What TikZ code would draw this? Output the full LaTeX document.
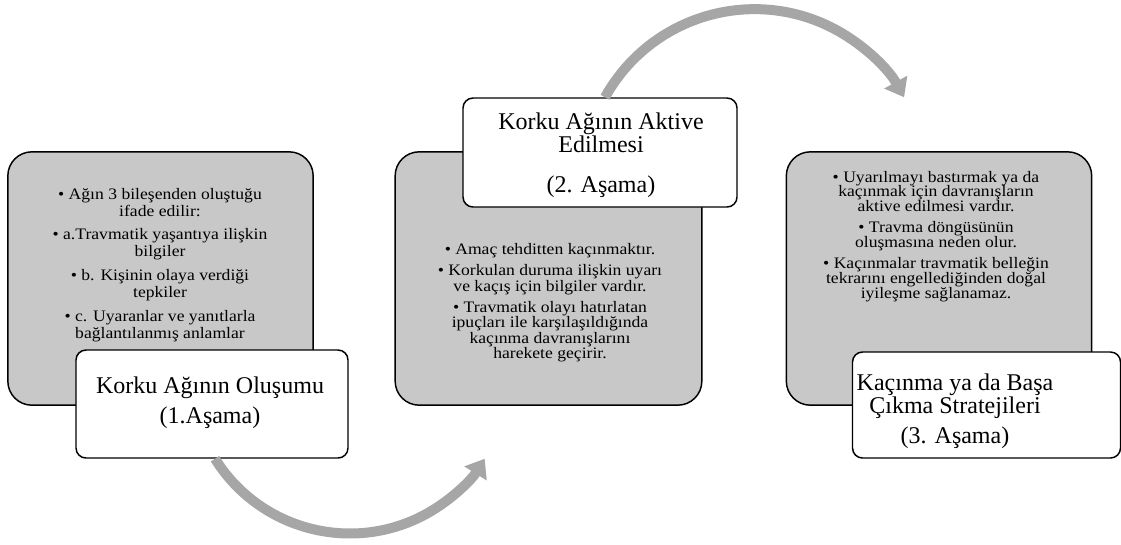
\documentclass[tikz,border=0pt]{standalone}
\usepackage{fontspec}
\setmainfont{Liberation Serif}
\newfontfamily\bodyfont[FakeStretch=1.1]{Liberation Serif}
\usetikzlibrary{arrows.meta,calc}
\definecolor{boxgray}{HTML}{C8C8C8}
\definecolor{arrowgray}{HTML}{A6A6A6}
\newcommand{\tightlines}{\lineskiplimit=-20pt\lineskip=0pt}
\tikzset{
  graybox/.style={draw=black, line width=1.1pt, fill=boxgray, rounded corners=18pt,
    inner sep=0pt, minimum width=229pt, minimum height=190pt},
  titlebox/.style={draw=black, line width=1.1pt, fill=white, rounded corners=7.5pt,
    inner sep=0pt},
  bodytext/.style={align=center, inner sep=0pt},
  titletext/.style={align=center, inner sep=0pt, font=\fontsize{18}{17.5}\selectfont\tightlines},
  flow/.style={draw=arrowgray, line width=7.5pt, -{Triangle[length=13pt,width=19pt]}}
}
\begin{document}
\begin{tikzpicture}[x=0.75pt,y=-0.75pt]
\useasboundingbox (0,0) rectangle (1121,544);

% gray boxes
\node[graybox] (g1) at (160.5,278.5) {};
\node[graybox, minimum width=230pt] (g2) at (548.5,278.5) {};
\node[graybox] (g3) at (939,278.5) {};

% white title boxes
\node[titlebox, minimum width=204pt, minimum height=81pt] (w1) at (212,404) {};
\node[titlebox, minimum width=205.5pt, minimum height=81.75pt] (w2) at (600,152.5) {};
\node[titlebox, minimum width=201pt, minimum height=79.5pt] (w3) at (986.5,405) {};

% arrows
\draw[flow] ($(w1.south)+(3,0)$) arc[start angle=148, end angle=32, radius=159];
\draw[flow] ($(w2.north)+(5,0)$) arc[start angle=-151, end angle=-29, radius=171];

% body texts
\node[bodytext, font=\bodyfont\fontsize{12}{12.75}\selectfont\tightlines] (b1) at (160,265) {%
\textbullet\ Ağın 3 bileşenden  oluştuğu\\ ifade edilir:\\[5pt]
\textbullet\ a.Travmatik yaşantıya ilişkin\\ bilgiler\\[5pt]
\textbullet\ b. Kişinin olaya verdiği\\ tepkiler\\[5pt]
\textbullet\ c. Uyaranlar ve yanıtlarla\\ bağlantılanmış anlamlar};

\node[bodytext, font=\bodyfont\fontsize{12}{11.5}\selectfont\tightlines] (b2) at (550,302.5) {%
\textbullet\ Amaç tehditten kaçınmaktır.\\[4.5pt]
\textbullet\ Korkulan duruma ilişkin uyarı\\ ve kaçış için bilgiler vardır.\\[4.5pt]
\textbullet\ Travmatik olayı hatırlatan\\ ipuçları ile karşılaşıldığında\\ kaçınma davranışlarını\\ harekete geçirir.};

\node[bodytext, font=\bodyfont\fontsize{12}{11.2}\selectfont\tightlines] (b3) at (936,236.5) {%
\textbullet\ Uyarılmayı bastırmak ya da\\ kaçınmak için davranışların\\ aktive edilmesi vardır.\\[4.5pt]
\textbullet\ Travma döngüsünün\\ oluşmasına neden olur.\\[4.5pt]
\textbullet\ Kaçınmalar travmatik belleğin\\ tekrarını engellediğinden doğal\\ iyileşme sağlanamaz.};

% title texts
\node[titletext] (t1) at (210,403) {Korku Ağının Oluşumu\\[5pt]%
(1.Aşama)};
\node[titletext] (t2) at (601,155) {Korku Ağının Aktive\\ Edilmesi\\[12pt]%
(2. Aşama)};
\node[titletext] (t3) at (955,411) {Kaçınma ya da Başa\\ Çıkma Stratejileri\\[5pt]%
(3. Aşama)};
\end{tikzpicture}
\end{document}
